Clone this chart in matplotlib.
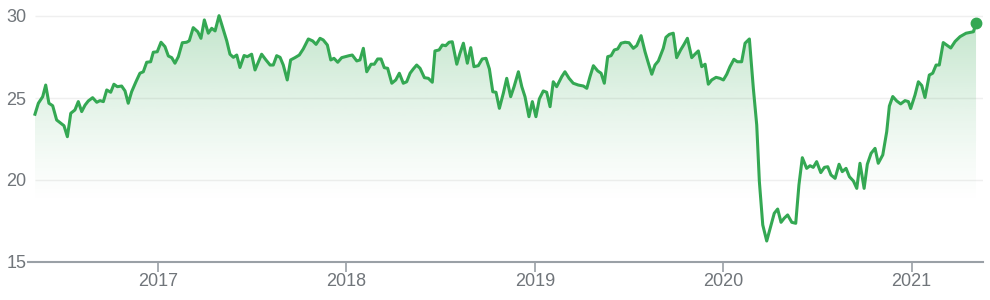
import numpy as np
import matplotlib.pyplot as plt
from matplotlib.colors import to_rgb
from matplotlib.patches import Polygon

plt.rcParams['font.family'] = ['Liberation Sans', 'DejaVu Sans']

# time in decimal years, weekly closes
t = [2016.347, 2016.365, 2016.388, 2016.404, 2016.421, 2016.441, 2016.462, 2016.484,
     2016.501, 2016.519, 2016.537, 2016.559, 2016.577, 2016.595, 2016.613, 2016.630,
     2016.653, 2016.675, 2016.692, 2016.710, 2016.728, 2016.749, 2016.766, 2016.784,
     2016.807, 2016.825, 2016.842, 2016.860, 2016.883, 2016.904, 2016.922, 2016.940,
     2016.961, 2016.975, 2016.996, 2017.016, 2017.037, 2017.055, 2017.073, 2017.090,
     2017.108, 2017.129, 2017.152, 2017.166, 2017.187, 2017.211, 2017.228, 2017.246,
     2017.267, 2017.285, 2017.303, 2017.324, 2017.347, 2017.365, 2017.382, 2017.400,
     2017.418, 2017.435, 2017.457, 2017.474, 2017.497, 2017.515, 2017.532, 2017.550,
     2017.573, 2017.595, 2017.612, 2017.630, 2017.648, 2017.665, 2017.686, 2017.704,
     2017.727, 2017.750, 2017.771, 2017.798, 2017.821, 2017.839, 2017.860, 2017.877,
     2017.899, 2017.917, 2017.934, 2017.954, 2017.975, 2017.998, 2018.014, 2018.031,
     2018.055, 2018.072, 2018.090, 2018.108, 2018.131, 2018.148, 2018.166, 2018.184,
     2018.201, 2018.219, 2018.241, 2018.262, 2018.281, 2018.302, 2018.320, 2018.338,
     2018.355, 2018.373, 2018.391, 2018.414, 2018.435, 2018.456, 2018.470, 2018.492,
     2018.509, 2018.527, 2018.545, 2018.562, 2018.586, 2018.603, 2018.621, 2018.642,
     2018.660, 2018.677, 2018.700, 2018.721, 2018.741, 2018.759, 2018.777, 2018.794,
     2018.812, 2018.833, 2018.851, 2018.872, 2018.890, 2018.913, 2018.931, 2018.948,
     2018.969, 2018.987, 2019.006, 2019.024, 2019.045, 2019.063, 2019.081, 2019.098,
     2019.116, 2019.143, 2019.160, 2019.182, 2019.204, 2019.231, 2019.258, 2019.276,
     2019.293, 2019.311, 2019.334, 2019.352, 2019.369, 2019.387, 2019.405, 2019.422,
     2019.440, 2019.458, 2019.479, 2019.500, 2019.523, 2019.541, 2019.564, 2019.585,
     2019.603, 2019.621, 2019.638, 2019.656, 2019.682, 2019.696, 2019.714, 2019.735,
     2019.753, 2019.774, 2019.792, 2019.810, 2019.833, 2019.850, 2019.868, 2019.886,
     2019.904, 2019.921, 2019.939, 2019.962, 2019.983, 2020.001, 2020.019, 2020.036,
     2020.057, 2020.075, 2020.098, 2020.116, 2020.139, 2020.160, 2020.178, 2020.192,
     2020.210, 2020.231, 2020.254, 2020.271, 2020.289, 2020.307, 2020.324, 2020.342,
     2020.364, 2020.385, 2020.402, 2020.420, 2020.443, 2020.461, 2020.478, 2020.496,
     2020.518, 2020.537, 2020.555, 2020.572, 2020.594, 2020.615, 2020.632, 2020.652,
     2020.670, 2020.691, 2020.709, 2020.726, 2020.748, 2020.765, 2020.785, 2020.806,
     2020.823, 2020.847, 2020.868, 2020.882, 2020.900, 2020.921, 2020.942, 2020.965,
     2020.983, 2020.995, 2021.018, 2021.036, 2021.054, 2021.071, 2021.094, 2021.112,
     2021.130, 2021.147, 2021.168, 2021.208, 2021.231, 2021.257, 2021.289, 2021.328,
     2021.342]

price = [24.01, 24.68, 25.08, 25.79, 24.68, 24.53, 23.66, 23.46,
         23.31, 22.64, 24.07, 24.27, 24.78, 24.17, 24.57, 24.82,
         25.02, 24.74, 24.84, 24.78, 25.49, 25.35, 25.84, 25.69,
         25.73, 25.43, 24.68, 25.38, 25.99, 26.51, 26.60, 27.18,
         27.21, 27.79, 27.82, 28.40, 28.13, 27.56, 27.46, 27.12,
         27.52, 28.37, 28.40, 28.49, 29.29, 29.04, 28.64, 29.76,
         28.95, 29.25, 29.09, 30.02, 29.15, 28.48, 27.67, 27.48,
         27.62, 26.86, 27.59, 27.52, 27.67, 26.71, 27.18, 27.67,
         27.32, 27.01, 27.01, 27.58, 27.48, 27.01, 26.10, 27.32,
         27.46, 27.62, 27.99, 28.60, 28.48, 28.27, 28.64, 28.54,
         28.23, 27.32, 27.42, 27.18, 27.46, 27.53, 27.58, 27.62,
         27.26, 27.32, 28.03, 26.60, 27.06, 27.06, 27.38, 27.38,
         26.85, 26.81, 25.90, 26.10, 26.51, 25.90, 25.99, 26.51,
         26.77, 27.01, 26.81, 26.24, 26.20, 25.96, 27.87, 27.93,
         28.23, 28.19, 28.40, 28.43, 27.06, 27.73, 28.34, 27.12,
         28.07, 26.91, 26.97, 27.38, 27.42, 26.77, 25.38, 25.35,
         24.37, 25.29, 26.20, 25.08, 25.69, 26.60, 25.69, 25.08,
         23.86, 24.78, 23.86, 24.94, 25.43, 25.35, 24.47, 25.99,
         25.69, 26.30, 26.60, 26.20, 25.90, 25.79, 25.73, 25.59,
         26.30, 26.97, 26.65, 26.51, 25.90, 27.52, 27.58, 27.93,
         27.99, 28.34, 28.40, 28.37, 28.03, 28.19, 28.80, 27.82,
         27.12, 26.45, 27.01, 27.26, 28.03, 28.70, 28.88, 28.95,
         27.46, 27.93, 28.27, 28.64, 27.46, 27.67, 27.87, 26.91,
         27.06, 25.84, 26.10, 26.26, 26.20, 26.10, 26.45, 26.91,
         27.36, 27.21, 27.21, 28.34, 28.60, 25.59, 23.35, 19.90,
         17.26, 16.28, 17.26, 17.97, 18.23, 17.42, 17.67, 17.87,
         17.42, 17.36, 19.70, 21.36, 20.71, 20.87, 20.77, 21.12,
         20.45, 20.77, 20.81, 20.31, 20.10, 20.96, 20.51, 20.71,
         20.20, 19.94, 19.49, 21.02, 19.49, 20.96, 21.63, 21.93,
         21.02, 21.53, 22.95, 24.51, 25.09, 24.82, 24.64, 24.84,
         24.78, 24.36, 25.18, 25.99, 25.76, 25.03, 26.40, 26.51,
         27.01, 27.01, 28.38, 28.05, 28.45, 28.74, 28.95, 29.04,
         29.56]

years = [2017, 2018, 2019, 2020, 2021]
y_ticks = [15, 20, 25, 30]

green = '#34a853'
grey_txt = '#70757a'
grey_axis = '#9aa0a6'

fig = plt.figure(figsize=(9.9, 3.0), dpi=100)
ax = fig.add_axes([28 / 990, 38 / 300, 955 / 990, 262.4 / 300])

# fondu vert sous la courbe, qui s'éteint vers le bas
verts = [(t[0], 15)] + list(zip(t, price)) + [(t[-1], 15)]
poly = Polygon(verts, closed=True, facecolor='none', edgecolor='none')
ax.add_patch(poly)
ys = np.linspace(31, 15, 256)
grad = np.zeros((256, 1, 4))
grad[..., :3] = to_rgb(green)
grad[:, 0, 3] = np.clip((ys - 18.5) / (31 - 18.5), 0, 1) ** 1.3 * 0.34
im = ax.imshow(grad, extent=[t[0], t[-1], 15, 31], aspect='auto',
               origin='upper', zorder=1, interpolation='bilinear')
im.set_clip_path(poly)

ax.set_xlim(2016.310, 2021.379)
ax.set_ylim(15, 31)

ax.hlines([20, 25, 30], t[0], 2021.379, color='#efefef', lw=1, zorder=0.5)

ax.plot(t, price, color=green, lw=2.2, zorder=3)
ax.plot(t[-1], price[-1], 'o', ms=7.5, color=green, zorder=4, clip_on=False)

for s in ['top', 'right', 'left']:
    ax.spines[s].set_visible(False)
ax.spines['bottom'].set_color(grey_axis)
ax.spines['bottom'].set_linewidth(1.5)

ax.set_xticks(years)
ax.set_xticklabels([str(y) for y in years])
ax.set_yticks(y_ticks)
ax.tick_params(axis='x', length=7, width=1.2, color=grey_axis,
               labelcolor=grey_txt, labelsize=13, pad=1)
ax.tick_params(axis='y', length=0, labelcolor=grey_txt, labelsize=13, pad=1)

fig.savefig('out.png', dpi=100)
